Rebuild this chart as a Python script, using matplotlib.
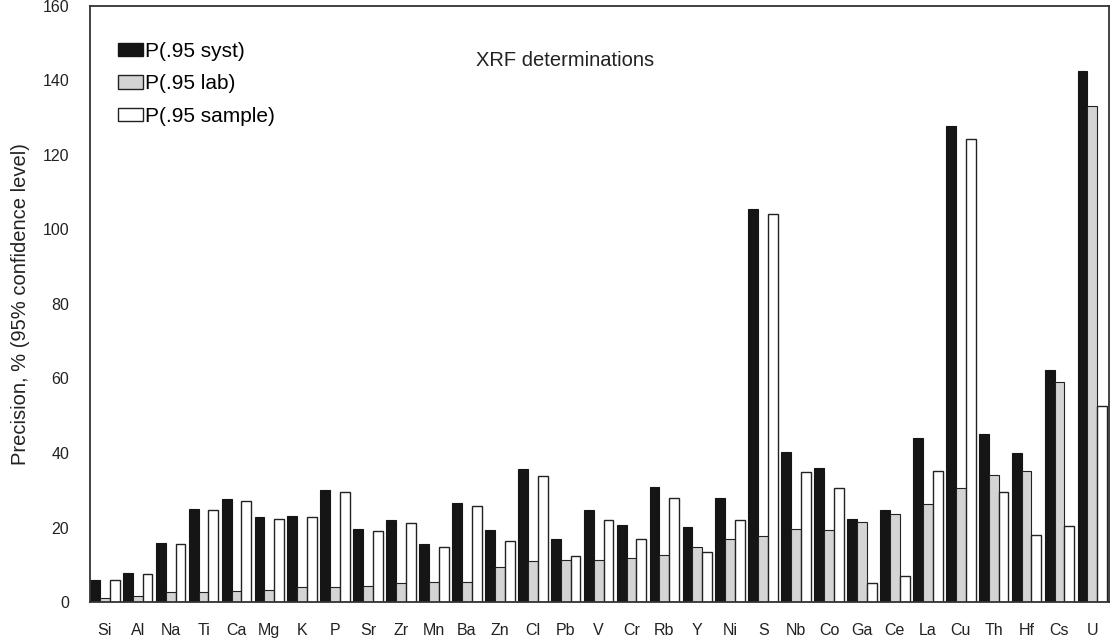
import numpy as np
import matplotlib
matplotlib.use('Agg')
import matplotlib.pyplot as plt
from matplotlib.patches import Patch

plt.rcParams['font.family'] = ['Liberation Sans', 'DejaVu Sans']

elements = ['Si', 'Al', 'Na', 'Ti', 'Ca', 'Mg', 'K', 'P', 'Sr', 'Zr', 'Mn', 'Ba', 'Zn', 'Cl',
            'Pb', 'V', 'Cr', 'Rb', 'Y', 'Ni', 'S', 'Nb', 'Co', 'Ga', 'Ce', 'La', 'Cu', 'Th',
            'Hf', 'Cs', 'U']
# values (precision, %)
p_syst = [5.9, 7.8, 15.9, 24.9, 27.6, 22.8, 23.2, 30.1, 19.6, 21.9, 15.7, 26.7, 19.2, 35.7,
          16.8, 24.7, 20.6, 31.0, 20.1, 27.8, 105.5, 40.3, 36.0, 22.2, 24.7, 44.1, 127.8, 45.1,
          39.9, 62.4, 142.6]
p_lab = [1.0, 1.6, 2.6, 2.7, 3.0, 3.2, 4.0, 4.1, 4.4, 5.0, 5.5, 5.5, 9.5, 10.9,
         11.4, 11.4, 11.8, 12.5, 14.9, 16.9, 17.7, 19.6, 19.2, 21.4, 23.5, 26.2, 30.5, 34.1,
         35.2, 59.1, 133.0]
p_sample = [5.9, 7.5, 15.6, 24.6, 27.2, 22.4, 22.8, 29.6, 19.0, 21.3, 14.7, 25.9, 16.5, 33.8,
            12.4, 22.0, 16.8, 28.0, 13.4, 22.0, 104.1, 34.9, 30.5, 5.0, 7.1, 35.2, 124.4, 29.5,
            18.1, 20.5, 52.5]

fig = plt.figure(figsize=(11.16, 6.41), dpi=100)
ax = fig.add_axes([0.0806, 0.0608, 0.913, 0.930])

x = np.arange(len(elements))
w = 0.3
ax.bar(x - w, p_syst, w, color='#151515', edgecolor='#151515', linewidth=0.8)
ax.bar(x, p_lab, w, color='#d4d4d4', edgecolor='#222222', linewidth=0.8)
ax.bar(x + w, p_sample, w, color='white', edgecolor='#222222', linewidth=1.0)

ax.set_xlim(-0.45, 30.5)
ax.set_ylim(0, 160)
ax.set_yticks(range(0, 161, 20))
ax.set_xticks(x)
ax.set_xticklabels(elements)
ax.tick_params(axis='both', length=0, labelsize=11.5, colors='#222222')
ax.tick_params(axis='x', pad=15)
ax.tick_params(axis='y', pad=15)
for s in ax.spines.values():
    s.set_linewidth(1.3)
    s.set_color('#333333')

ax.set_ylabel('Precision, % (95% confidence level)', fontsize=14.5, color='#222222', labelpad=9)
ax.text(0.466, 0.909, 'XRF determinations', transform=ax.transAxes, fontsize=14.5,
        ha='center', va='center', color='#222222')

handles = [Patch(facecolor='#151515', edgecolor='#151515', label='P(.95 syst)'),
           Patch(facecolor='#d4d4d4', edgecolor='#222222', label='P(.95 lab)'),
           Patch(facecolor='white', edgecolor='#222222', label='P(.95 sample)')]
ax.legend(handles=handles, loc='upper left', bbox_to_anchor=(0.0275, 0.94), frameon=False,
          fontsize=15, handlelength=1.2, handleheight=0.62, handletextpad=0.1,
          labelspacing=0.65, borderaxespad=0, borderpad=0)

fig.savefig('out.png', dpi=100)
